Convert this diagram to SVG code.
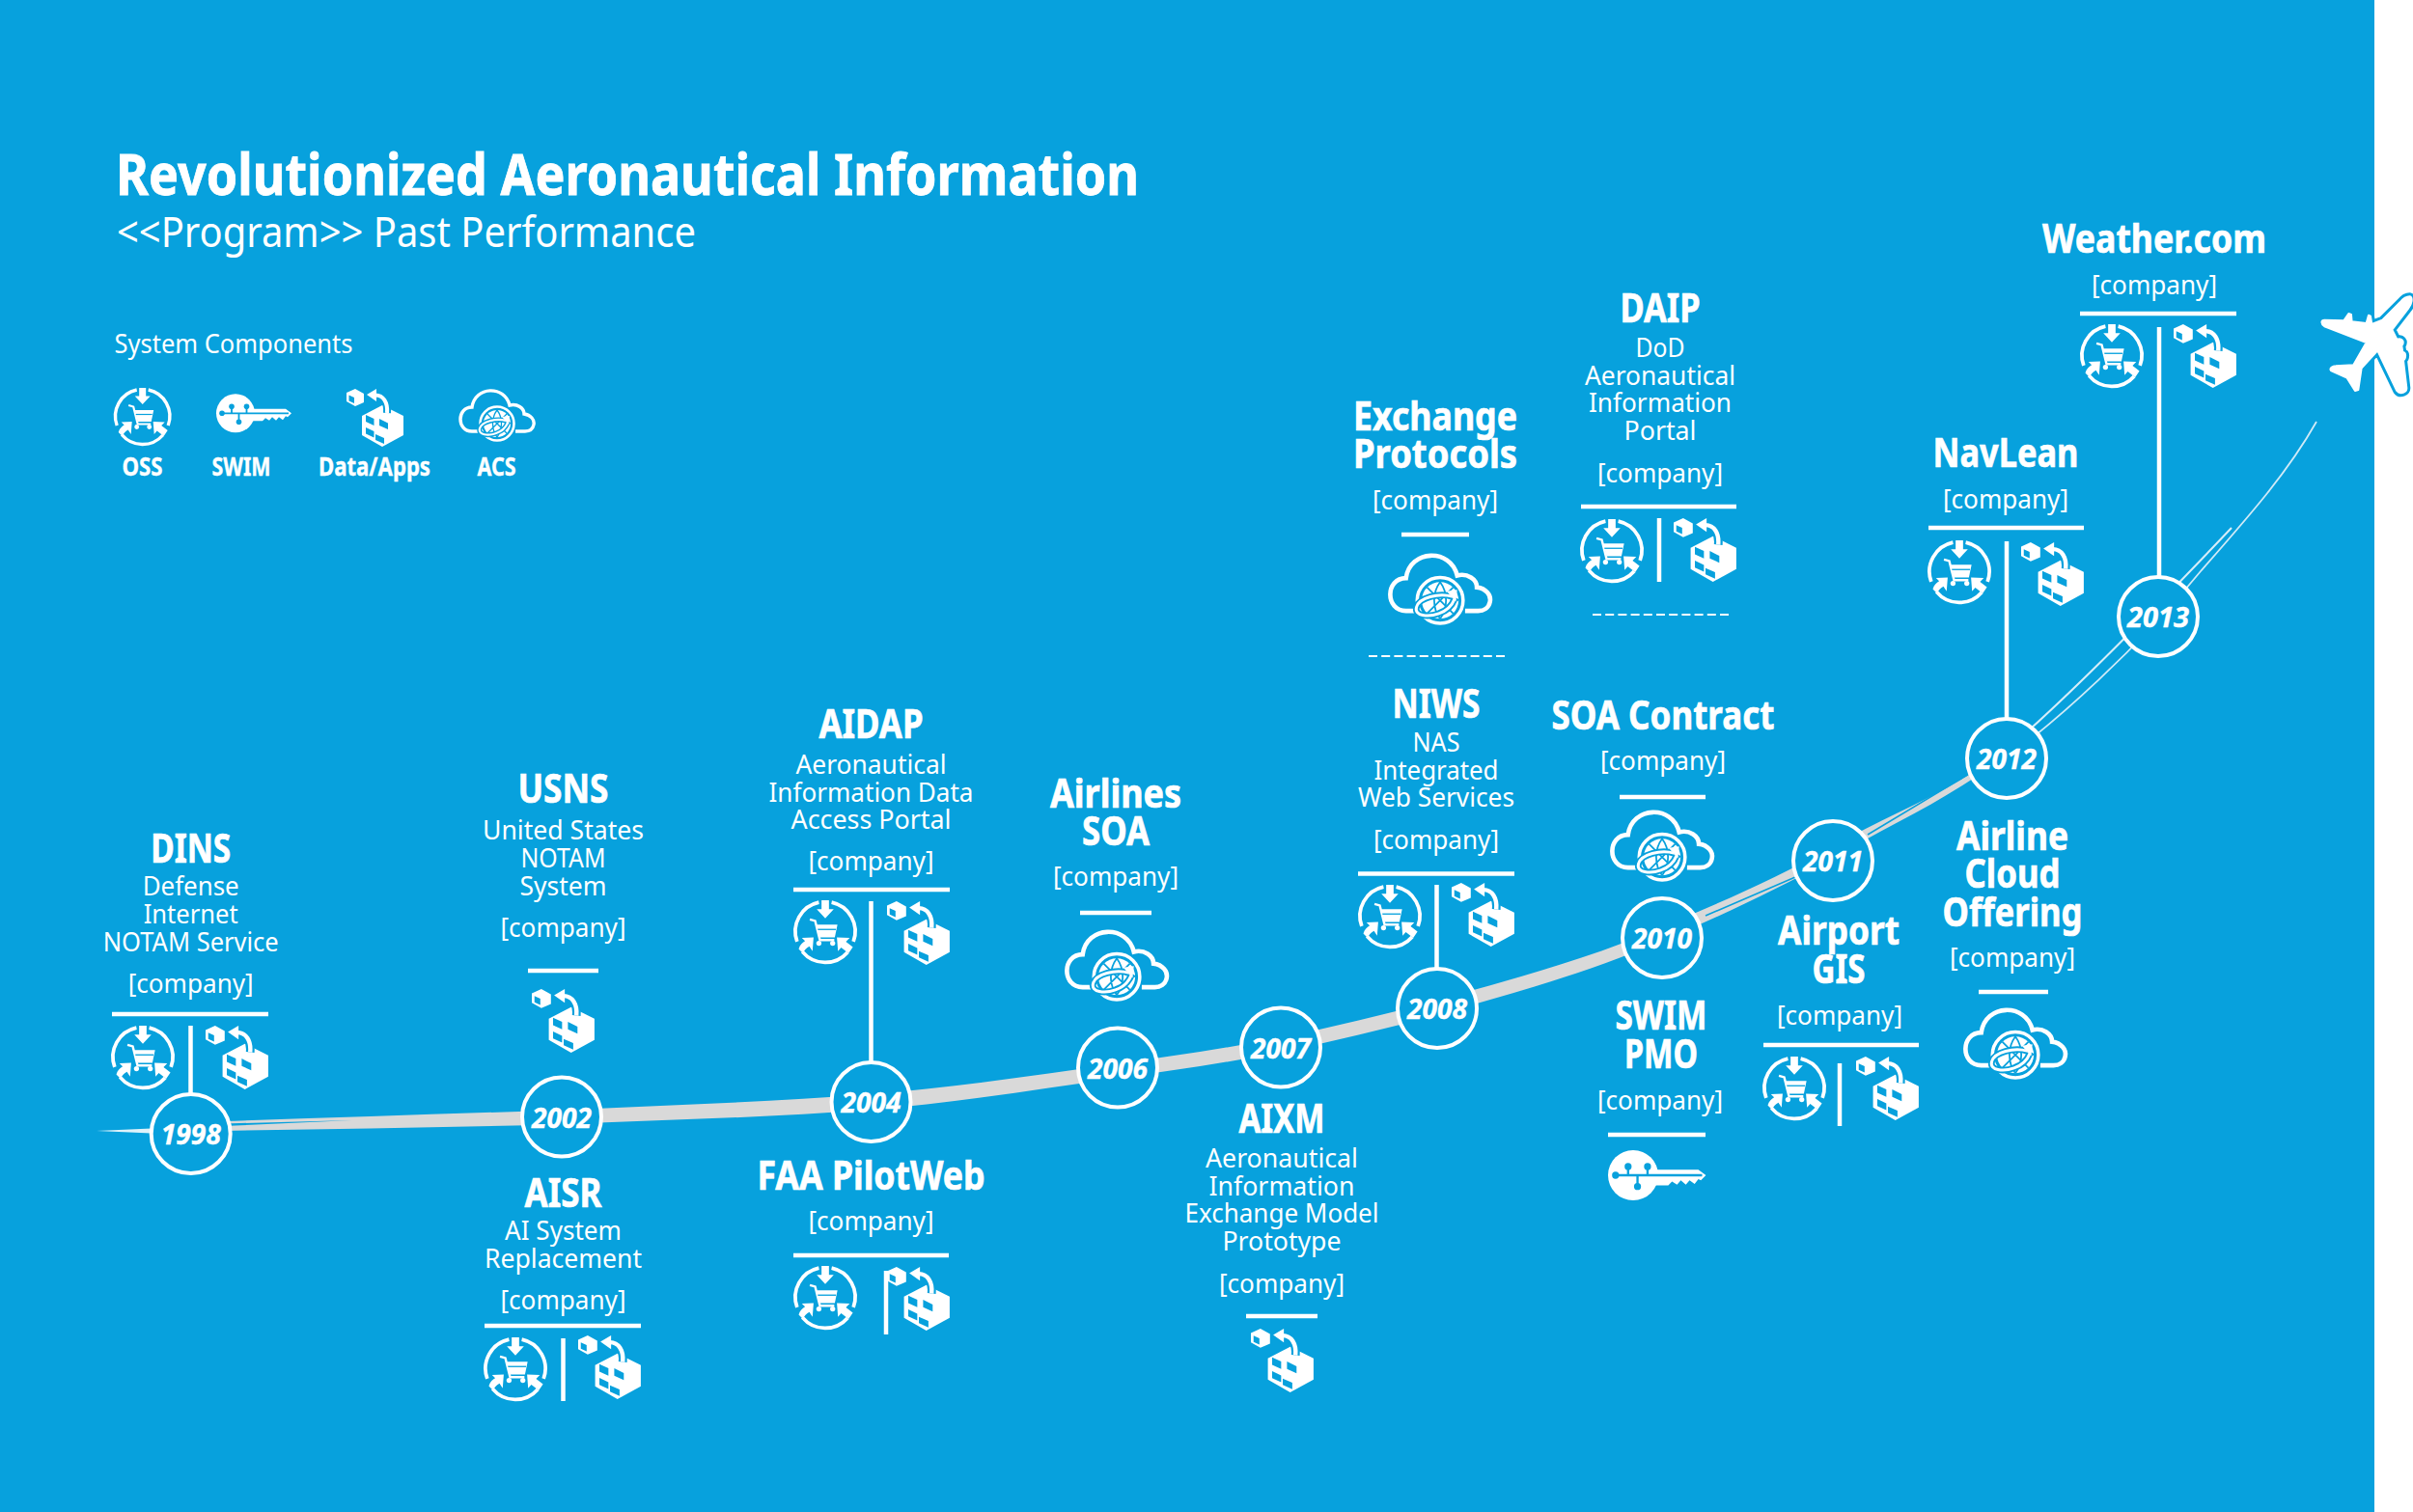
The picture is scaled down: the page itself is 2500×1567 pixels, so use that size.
<svg xmlns="http://www.w3.org/2000/svg" width="2500" height="1567" viewBox="0 0 2500 1567">
<style>
text{fill:#fff;font-family:"Noto Sans","Open Sans","Liberation Sans",sans-serif;text-anchor:middle}
.t{font-size:41px;font-weight:700;stroke:#fff;stroke-width:.7}
.s{font-size:28px}
.c{font-size:28px}
.y{font-size:28px;font-weight:700;font-style:italic;stroke:#fff;stroke-width:.4}
.l{font-size:26px;font-weight:700;stroke:#fff;stroke-width:.4}
.h{fill:none;stroke:#fff;stroke-width:4.5}
.d{fill:none;stroke:#fff;stroke-width:2;stroke-dasharray:9 4.2}
.v{fill:none;stroke:#fff;stroke-width:4.5}
.yc{fill:#07a1dd;stroke:#fff;stroke-width:4}
</style>
<defs>
<g id="oss">
<path d="M6,-28 A28,28 0 0 1 26.5,9 M21,19 A28,28 0 0 1 -21.5,18.5 M-26.5,9 A28,28 0 0 1 -6,-28" fill="none" stroke="#fff" stroke-width="3.4"/>
<path d="M-3.5,-30 H3.5 V-21.5 H8 L0,-13 L-8,-21.5 H-3.5Z" fill="#fff"/>
<path d="M-11,5 L-12,18 L-15,13.5 C-18,15 -20,18 -21,20 L-25,16 C-24,12 -21,9.5 -19,8.5 L-22,5.5Z" fill="#fff"/>
<path d="M11,5 L12,18 L15,14.5 L22,20 L26,14 L19.5,9 L23,5.5Z" fill="#fff"/>
<path d="M-14.5,-12 L-9.5,-10.5 L-5,7.5 H8.5" fill="none" stroke="#fff" stroke-width="2.2"/>
<path d="M-8,-7 H11.5 L9,5 H-5Z" fill="#fff"/>
<path d="M-7,-2.500 H10" stroke="#07a1dd" stroke-width="1.2"/>
<circle cx="-6" cy="10.5" r="2.4" fill="#fff"/><circle cx="7" cy="10.5" r="2.4" fill="#fff"/>
</g>
<g id="key">
<circle r="20" fill="#fff"/>
<path d="M10,-4.5 H52 L58,0 L54,4 L52,3 L49,7 L45,4 L42,7.5 L38,4 L35,7.5 L31,5 L28,8 L10,8Z" fill="#fff"/>
<path d="M-14,0 H55 M-4,-7 V0 M11.5,-7 V0 M3.5,9 V0" stroke="#07a1dd" stroke-width="1.8" fill="none"/>
<circle cx="-14" cy="0" r="2.8" fill="#07a1dd"/><circle cx="-4" cy="-7" r="2.8" fill="#07a1dd"/><circle cx="11.5" cy="-7" r="2.8" fill="#07a1dd"/><circle cx="3.5" cy="9" r="2.8" fill="#07a1dd"/>
</g>
<g id="data">
<path d="M0,4 L9,0 L18,5 V14 L9,18 L0,13Z" fill="#fff"/>
<path d="M2.5,6.5 L8,9 V15 L2.5,12.5Z" fill="#07a1dd"/>
<path d="M16,28 L37,17 L59,28 V48 L37,60 L16,48Z" fill="#fff"/>
<path d="M20,27 L28.5,31 V38 L20,34Z M34,31 L43,35.5 V42 L34,38Z M20,40 L28.5,44 V50.5 L20,46.5Z M30,47 L39,51 V57 L30,53Z" fill="#07a1dd"/>
<path d="M30,6.5 C38,6.5 43,14 42,25" fill="none" stroke="#07a1dd" stroke-width="8"/>
<path d="M30,6.5 C38,6.5 43,14 42,25" fill="none" stroke="#fff" stroke-width="4"/>
<path d="M21,6 L31,0 V13Z" fill="#fff"/>
</g>
<g id="acs">
<path d="M20,42 H13 C-3,42 -3,17 13,17 C16,-5 47,-6 52,15 C60,13 67,18 67,24 C74,25 78,30 77,35 C76,40 72,42 68,42 H58" fill="none" stroke="#fff" stroke-width="3.4"/>
<circle cx="39" cy="34" r="20" fill="#07a1dd"/>
<circle cx="39" cy="34" r="17.5" fill="#07a1dd" stroke="#fff" stroke-width="2.6"/>
<circle cx="39" cy="34" r="14" fill="#fff"/>
<path d="M39,20 C33,28 33,40 39,48 M39,20 C45,28 45,40 39,48 M25,34 C32,28 46,28 53,34 M29,24 L49,44 M49,24 L29,44" fill="none" stroke="#07a1dd" stroke-width="1.3"/>
<path d="M48,31 C38,28 23,32 21,39 C19,46 30,47 38,44 C44,42 48,38 50,33" fill="none" stroke="#07a1dd" stroke-width="5"/>
<path d="M48,31 C38,28 23,32 21,39 C19,46 30,47 38,44 C44,42 48,38 50,33" fill="none" stroke="#fff" stroke-width="2.2"/>
<path d="M44,27 L52,26 L51,35Z" fill="#fff"/>
</g>
<path id="planeP" d="M1190,322 C1200,325 1197,345 1185,360 L1135,425 L1150,455 C1165,450 1175,462 1165,475 L1168,495 C1180,495 1178,515 1170,520 L1180,605 C1182,620 1160,628 1150,615 L1090,490 L1040,545 L1030,612 L1020,615 L995,575 L945,552 C940,545 950,538 960,538 L1015,535 L1055,465 L925,415 C912,405 915,395 925,395 L985,397 L1000,375 L1008,378 L1010,400 L1055,405 L1062,380 L1068,383 L1072,408 L1105,395 L1160,340 C1170,328 1180,322 1190,322Z"/>
</defs>
<rect width="2500" height="1567" fill="#fff"/>
<rect width="2460" height="1567" fill="#07a1dd"/>
<g id="header">
<text x="650" y="202" style="font-size:60px;font-weight:700;stroke:#fff;stroke-width:.8" textLength="1060" lengthAdjust="spacingAndGlyphs">Revolutionized Aeronautical Information</text>
<text x="421" y="256" style="font-size:44px" textLength="600" lengthAdjust="spacingAndGlyphs">&lt;&lt;Program&gt;&gt; Past Performance</text>
</g>
<g id="legend">
<text x="242" y="366" style="font-size:28px" textLength="247" lengthAdjust="spacingAndGlyphs">System Components</text>
<use href="#oss" transform="translate(147.7,432)"/>
<use href="#key" transform="translate(244,428.3)"/>
<use href="#data" transform="translate(359,403)"/>
<use href="#acs" transform="translate(476,405)"/>
<text class="l" x="147.5" y="493" textLength="42" lengthAdjust="spacingAndGlyphs">OSS</text>
<text class="l" x="250" y="493" textLength="61" lengthAdjust="spacingAndGlyphs">SWIM</text>
<text class="l" x="388" y="493" textLength="116" lengthAdjust="spacingAndGlyphs">Data/Apps</text>
<text class="l" x="514.5" y="493" textLength="40" lengthAdjust="spacingAndGlyphs">ACS</text>
</g>
<g id="connectors">
<path d="M230,1162 C351,1158.2 466,1154.3 582,1150.5 C689,1145.2 795,1142.6 902,1134 C987,1127.2 1072,1114.4 1157,1102.5 C1213,1094.7 1270,1086.7 1326,1075.500 C1380,1064.7 1435,1051.6 1489,1036.5 C1567,1014.7 1644,994.5 1722,961 C1781,935.6 1840,911.2 1899,877 C1959,842.2 2019,822.8 2079,776 L2079,782 C2019,828.8 1959,854.2 1899,889 C1840,923.2 1781,949.6 1722,975 C1644,1008.5 1567,1029.7 1489,1051.5 C1435,1066.6 1380,1079.7 1326,1090.5 C1270,1101.7 1213,1109.7 1157,1117.5 C1072,1129.4 987,1143.2 902,1150 C795,1158.6 689,1160.2 582,1165.5 C466,1168 351,1170 230,1172Z" fill="#d9d9d9"/>
<path d="M232,1164.500 L232,1167 L365,1161Z" fill="#07a1dd"/>
<path d="M100,1172 L157,1169.5 V1174.5Z" fill="#dff2fa"/>
<path d="M1767,949 L1860,909 M1935,865 L2040,802" stroke="#07a1dd" stroke-width="1.6" fill="none"/>
<path d="M2079,777 C2120,742 2200,665 2312,547" stroke="#d6edf8" stroke-width="2" fill="none"/>
<path d="M2079,785 C2130,748 2215,672 2280,592 C2330,535 2370,490 2400,437" stroke="#cfeaf7" stroke-width="1.8" fill="none"/>
<path class="v" d="M197.5,1063V1134M583.5,1387V1452M902.5,934V1100M918,1317V1383M1488.5,917V1004M1719,537V603M1906,1102V1167M2079,561V745M2237,339V597"/>
</g>
<g id="y1998"><circle class="yc" cx="197.7" cy="1175" r="41"/><text class="y" x="197.7" y="1186" textLength="62" lengthAdjust="spacingAndGlyphs">1998</text></g>
<g id="y2002"><circle class="yc" cx="582" cy="1157.5" r="41"/><text class="y" x="582" y="1168.5" textLength="62" lengthAdjust="spacingAndGlyphs">2002</text></g>
<g id="y2004"><circle class="yc" cx="902.5" cy="1142" r="41"/><text class="y" x="902.5" y="1153" textLength="62" lengthAdjust="spacingAndGlyphs">2004</text></g>
<g id="y2006"><circle class="yc" cx="1158" cy="1106.5" r="41"/><text class="y" x="1158" y="1117.5" textLength="62" lengthAdjust="spacingAndGlyphs">2006</text></g>
<g id="y2007"><circle class="yc" cx="1327" cy="1085.5" r="41"/><text class="y" x="1327" y="1096.5" textLength="62" lengthAdjust="spacingAndGlyphs">2007</text></g>
<g id="y2008"><circle class="yc" cx="1489" cy="1045" r="41"/><text class="y" x="1489" y="1056" textLength="62" lengthAdjust="spacingAndGlyphs">2008</text></g>
<g id="y2010"><circle class="yc" cx="1722" cy="972" r="41"/><text class="y" x="1722" y="983" textLength="62" lengthAdjust="spacingAndGlyphs">2010</text></g>
<g id="y2011"><circle class="yc" cx="1899" cy="892" r="41"/><text class="y" x="1899" y="903" textLength="62" lengthAdjust="spacingAndGlyphs">2011</text></g>
<g id="y2012"><circle class="yc" cx="2079" cy="786" r="41"/><text class="y" x="2079" y="797" textLength="62" lengthAdjust="spacingAndGlyphs">2012</text></g>
<g id="y2013"><circle class="yc" cx="2236" cy="639" r="41"/><text class="y" x="2236" y="650" textLength="64" lengthAdjust="spacingAndGlyphs">2013</text></g>

<g id="dins">
<text class="t" x="197.7" y="893.5" textLength="83" lengthAdjust="spacingAndGlyphs">DINS</text>
<text class="s" x="197.7" y="928" textLength="100" lengthAdjust="spacingAndGlyphs">Defense</text>
<text class="s" x="197.7" y="957" textLength="98" lengthAdjust="spacingAndGlyphs">Internet</text>
<text class="s" x="197.7" y="986" textLength="182" lengthAdjust="spacingAndGlyphs">NOTAM Service</text>
<text class="c" x="197.7" y="1029" textLength="130" lengthAdjust="spacingAndGlyphs">[company]</text>
<path class="h" d="M116,1051H278"/>
<use href="#oss" transform="translate(148,1096) scale(1.1)"/>
<use href="#data" transform="translate(213,1063) scale(1.1)"/>
</g>
<g id="usns">
<text class="t" x="583.5" y="831.5" textLength="94" lengthAdjust="spacingAndGlyphs">USNS</text>
<text class="s" x="583.5" y="870" textLength="167" lengthAdjust="spacingAndGlyphs">United States</text>
<text class="s" x="583.5" y="899" textLength="88" lengthAdjust="spacingAndGlyphs">NOTAM</text>
<text class="s" x="583.5" y="928" textLength="90" lengthAdjust="spacingAndGlyphs">System</text>
<text class="c" x="583.5" y="971" textLength="130" lengthAdjust="spacingAndGlyphs">[company]</text>
<path class="h" d="M547,1006H620"/>
<use href="#data" transform="translate(551,1025) scale(1.1)"/>
</g>
<g id="aisr">
<text class="t" x="583.5" y="1250.500" textLength="80" lengthAdjust="spacingAndGlyphs">AISR</text>
<text class="s" x="583.5" y="1285" textLength="121" lengthAdjust="spacingAndGlyphs">AI System</text>
<text class="s" x="583.5" y="1314" textLength="163" lengthAdjust="spacingAndGlyphs">Replacement</text>
<text class="c" x="583.5" y="1357" textLength="130" lengthAdjust="spacingAndGlyphs">[company]</text>
<path class="h" d="M502,1374H664"/>
<use href="#oss" transform="translate(534,1419) scale(1.1)"/>
<use href="#data" transform="translate(599,1384) scale(1.1)"/>
</g>
<g id="aidap">
<text class="t" x="902.5" y="765" textLength="108" lengthAdjust="spacingAndGlyphs">AIDAP</text>
<text class="s" x="902.5" y="802" textLength="156" lengthAdjust="spacingAndGlyphs">Aeronautical</text>
<text class="s" x="902.5" y="831" textLength="212" lengthAdjust="spacingAndGlyphs">Information Data</text>
<text class="s" x="902.5" y="859" textLength="166" lengthAdjust="spacingAndGlyphs">Access Portal</text>
<text class="c" x="902.5" y="902" textLength="130" lengthAdjust="spacingAndGlyphs">[company]</text>
<path class="h" d="M822,922H984"/>
<use href="#oss" transform="translate(855,966) scale(1.1)"/>
<use href="#data" transform="translate(919,934) scale(1.1)"/>
</g>
<g id="faa">
<text class="t" x="902.5" y="1233" textLength="236" lengthAdjust="spacingAndGlyphs">FAA PilotWeb</text>
<text class="c" x="902.5" y="1275" textLength="130" lengthAdjust="spacingAndGlyphs">[company]</text>
<path class="h" d="M822,1301H983"/>
<use href="#oss" transform="translate(855,1345) scale(1.1)"/>
<use href="#data" transform="translate(919,1313) scale(1.1)"/>
</g>
<g id="airlines">
<text class="t" x="1156" y="836.5" textLength="136" lengthAdjust="spacingAndGlyphs">Airlines</text>
<text class="t" x="1156" y="876" textLength="70" lengthAdjust="spacingAndGlyphs">SOA</text>
<text class="c" x="1156" y="918" textLength="130" lengthAdjust="spacingAndGlyphs">[company]</text>
<path class="h" d="M1119,946H1193"/>
<use href="#acs" transform="translate(1104,966) scale(1.36)"/>
</g>
<g id="aixm">
<text class="t" x="1328" y="1174" textLength="89" lengthAdjust="spacingAndGlyphs">AIXM</text>
<text class="s" x="1328" y="1210" textLength="158" lengthAdjust="spacingAndGlyphs">Aeronautical</text>
<text class="s" x="1328" y="1239" textLength="151" lengthAdjust="spacingAndGlyphs">Information</text>
<text class="s" x="1328" y="1267" textLength="201" lengthAdjust="spacingAndGlyphs">Exchange Model</text>
<text class="s" x="1328" y="1296" textLength="123" lengthAdjust="spacingAndGlyphs">Prototype</text>
<text class="c" x="1328" y="1340" textLength="130" lengthAdjust="spacingAndGlyphs">[company]</text>
<path class="h" d="M1291,1364H1365"/>
<use href="#data" transform="translate(1296,1377) scale(1.1)"/>
</g>
<g id="exchange">
<text class="t" x="1487" y="445.500" textLength="170" lengthAdjust="spacingAndGlyphs">Exchange</text>
<text class="t" x="1487" y="485" textLength="170" lengthAdjust="spacingAndGlyphs">Protocols</text>
<text class="c" x="1487" y="528" textLength="130" lengthAdjust="spacingAndGlyphs">[company]</text>
<path class="h" d="M1452,554H1522"/>
<use href="#acs" transform="translate(1439,576) scale(1.36)"/>
<path class="d" d="M1418,680H1560"/>
</g>
<g id="niws">
<text class="t" x="1488" y="744" textLength="91" lengthAdjust="spacingAndGlyphs">NIWS</text>
<text class="s" x="1488" y="779" textLength="49" lengthAdjust="spacingAndGlyphs">NAS</text>
<text class="s" x="1488" y="807.5" textLength="129" lengthAdjust="spacingAndGlyphs">Integrated</text>
<text class="s" x="1488" y="836" textLength="162" lengthAdjust="spacingAndGlyphs">Web Services</text>
<text class="c" x="1488" y="880" textLength="130" lengthAdjust="spacingAndGlyphs">[company]</text>
<path class="h" d="M1407,905.5H1569"/>
<use href="#oss" transform="translate(1440,950) scale(1.1)"/>
<use href="#data" transform="translate(1504,915) scale(1.1)"/>
</g>
<g id="daip">
<text class="t" x="1720" y="334" textLength="83" lengthAdjust="spacingAndGlyphs">DAIP</text>
<text class="s" x="1720" y="370" textLength="51" lengthAdjust="spacingAndGlyphs">DoD</text>
<text class="s" x="1720" y="399" textLength="156" lengthAdjust="spacingAndGlyphs">Aeronautical</text>
<text class="s" x="1720" y="427" textLength="148" lengthAdjust="spacingAndGlyphs">Information</text>
<text class="s" x="1720" y="456" textLength="75" lengthAdjust="spacingAndGlyphs">Portal</text>
<text class="c" x="1720" y="500" textLength="130" lengthAdjust="spacingAndGlyphs">[company]</text>
<path class="h" d="M1638,525H1799"/>
<use href="#oss" transform="translate(1670,571) scale(1.1)"/>
<use href="#data" transform="translate(1734,537) scale(1.1)"/>
<path class="d" d="M1650,637H1792"/>
</g>
<g id="soa-contract">
<text class="t" x="1723" y="755.5" textLength="231" lengthAdjust="spacingAndGlyphs">SOA Contract</text>
<text class="c" x="1723" y="798" textLength="130" lengthAdjust="spacingAndGlyphs">[company]</text>
<path class="h" d="M1678,826H1767"/>
<use href="#acs" transform="translate(1669,842) scale(1.36)"/>
</g>
<g id="swim-pmo">
<text class="t" x="1721" y="1066.5" textLength="95" lengthAdjust="spacingAndGlyphs">SWIM</text>
<text class="t" x="1721" y="1106.5" textLength="76" lengthAdjust="spacingAndGlyphs">PMO</text>
<text class="c" x="1720" y="1149.500" textLength="130" lengthAdjust="spacingAndGlyphs">[company]</text>
<path class="h" d="M1666,1176H1767"/>
<use href="#key" transform="translate(1692,1218) scale(1.3)"/>
</g>
<g id="airport-gis">
<text class="t" x="1905" y="979" textLength="126" lengthAdjust="spacingAndGlyphs">Airport</text>
<text class="t" x="1905" y="1018.5" textLength="55" lengthAdjust="spacingAndGlyphs">GIS</text>
<text class="c" x="1906" y="1062" textLength="130" lengthAdjust="spacingAndGlyphs">[company]</text>
<path class="h" d="M1827,1083H1988"/>
<use href="#oss" transform="translate(1859,1128) scale(1.1)"/>
<use href="#data" transform="translate(1923,1095) scale(1.1)"/>
</g>
<g id="airline-cloud">
<text class="t" x="2085" y="880.5" textLength="116" lengthAdjust="spacingAndGlyphs">Airline</text>
<text class="t" x="2085" y="920" textLength="99" lengthAdjust="spacingAndGlyphs">Cloud</text>
<text class="t" x="2085" y="960" textLength="145" lengthAdjust="spacingAndGlyphs">Offering</text>
<text class="c" x="2085" y="1002" textLength="130" lengthAdjust="spacingAndGlyphs">[company]</text>
<path class="h" d="M2050,1028H2122"/>
<use href="#acs" transform="translate(2035,1047) scale(1.36)"/>
</g>
<g id="navlean">
<text class="t" x="2078" y="483.500" textLength="151" lengthAdjust="spacingAndGlyphs">NavLean</text>
<text class="c" x="2078" y="527" textLength="130" lengthAdjust="spacingAndGlyphs">[company]</text>
<path class="h" d="M1998,547H2159"/>
<use href="#oss" transform="translate(2030,593) scale(1.1)"/>
<use href="#data" transform="translate(2094,562) scale(1.1)"/>
</g>
<g id="weather">
<text class="t" x="2232" y="261.5" textLength="232" lengthAdjust="spacingAndGlyphs">Weather.com</text>
<text class="c" x="2232" y="305" textLength="130" lengthAdjust="spacingAndGlyphs">[company]</text>
<path class="h" d="M2155,325H2317"/>
<use href="#oss" transform="translate(2188,369) scale(1.1)"/>
<use href="#data" transform="translate(2252,336) scale(1.1)"/>
</g>
<g id="plane" transform="translate(2100,200) scale(.3333)">
<use href="#planeP" fill="#07a1dd" stroke="#07a1dd" stroke-width="24" stroke-linejoin="round"/>
<use href="#planeP" fill="#fff" stroke="#fff" stroke-width="6" stroke-linejoin="round"/>
</g>
</svg>
